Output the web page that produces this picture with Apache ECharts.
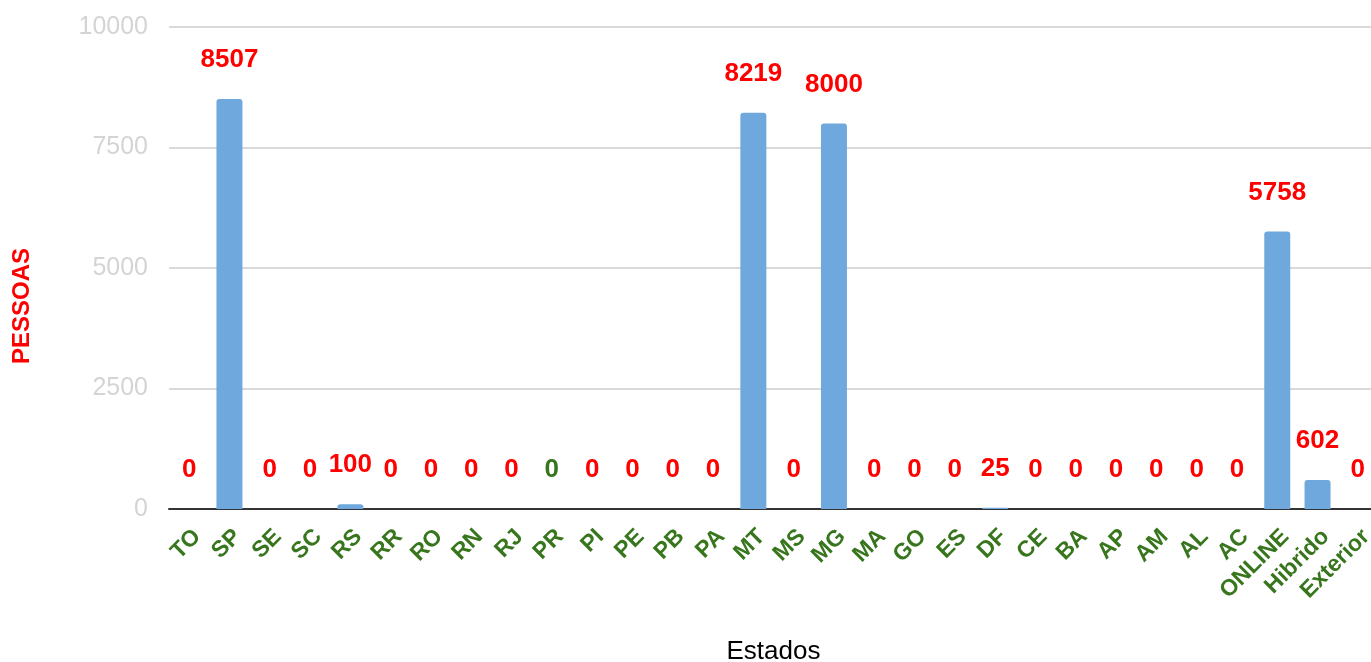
<!DOCTYPE html>
<html>
<head>
<meta charset="utf-8">
<script src="https://cdn.jsdelivr.net/npm/echarts@6/dist/echarts.min.js"></script>
<style>
  html, body { margin: 0; padding: 0; background: #fff; }
  #chart { width: 1371px; height: 662px; }
</style>
</head>
<body>
<div id="chart"></div>
<script>
// categorias (estados) e valores
const categories = ['TO', 'SP', 'SE', 'SC', 'RS', 'RR', 'RO', 'RN', 'RJ', 'PR', 'PI', 'PE', 'PB', 'PA',
  'MT', 'MS', 'MG', 'MA', 'GO', 'ES', 'DF', 'CE', 'BA', 'AP', 'AM', 'AL', 'AC', 'ONLINE', 'Hibrido', 'Exterior']
const pessoas = [0, 8507, 0, 0, 100, 0, 0, 0, 0, 0, 0, 0, 0, 0,
  8219, 0, 8000, 0, 0, 0, 25, 0, 0, 0, 0, 0, 0, 5758, 602, 0]
const yTicks = [0, 2500, 5000, 7500, 10000]

const FONT = '"Liberation Sans", Arial, sans-serif'
const chart = echarts.init(document.getElementById('chart'))

// o rótulo do PR aparece em verde no original
const data = pessoas.map((v, i) => {
  if (categories[i] === 'PR') {
    return { value: v, label: { color: '#38761d' } }
  }
  return v
})

chart.setOption({
  animation: false,
  textStyle: { fontFamily: FONT },
  grid: {
    left: 169,
    top: 27,
    width: 1209,
    height: 482,
    containLabel: false,
    outerBoundsMode: 'none'
  },
  graphic: [{
    type: 'text',
    x: 22,
    y: 306,
    rotation: Math.PI / 2,
    style: {
      text: 'PESSOAS',
      fill: '#ff0000',
      align: 'center',
      verticalAlign: 'middle',
      font: 'bold 24px ' + FONT
    }
  }],
  xAxis: {
    type: 'category',
    data: categories,
    name: 'Estados',
    nameLocation: 'middle',
    nameGap: 130,
    nameTextStyle: { color: '#000', fontSize: 26 },
    axisLine: { lineStyle: { color: '#333', width: 2 } },
    axisTick: { show: false },
    axisLabel: {
      interval: 0,
      rotate: 45,
      color: '#38761d',
      fontWeight: 'bold',
      fontSize: 23,
      verticalAlign: 'top',
      margin: 16
    }
  },
  yAxis: {
    type: 'value',
    min: yTicks[0],
    max: yTicks[yTicks.length - 1],
    interval: 2500,
    axisLine: { show: false },
    axisTick: { show: false },
    axisLabel: { color: '#d4d4d4', fontSize: 25, margin: 21, formatter: v => String(v) },
    splitLine: { lineStyle: { color: '#cccccc', width: 1.5 } }
  },
  series: [{
    type: 'bar',
    data: data,
    barWidth: 26,
    itemStyle: { color: '#6fa8dc', borderRadius: [3, 3, 0, 0] },
    label: {
      show: true,
      position: 'top',
      distance: 26,
      color: '#ff0000',
      fontWeight: 'bold',
      fontSize: 26
    }
  }]
})
</script>
</body>
</html>
